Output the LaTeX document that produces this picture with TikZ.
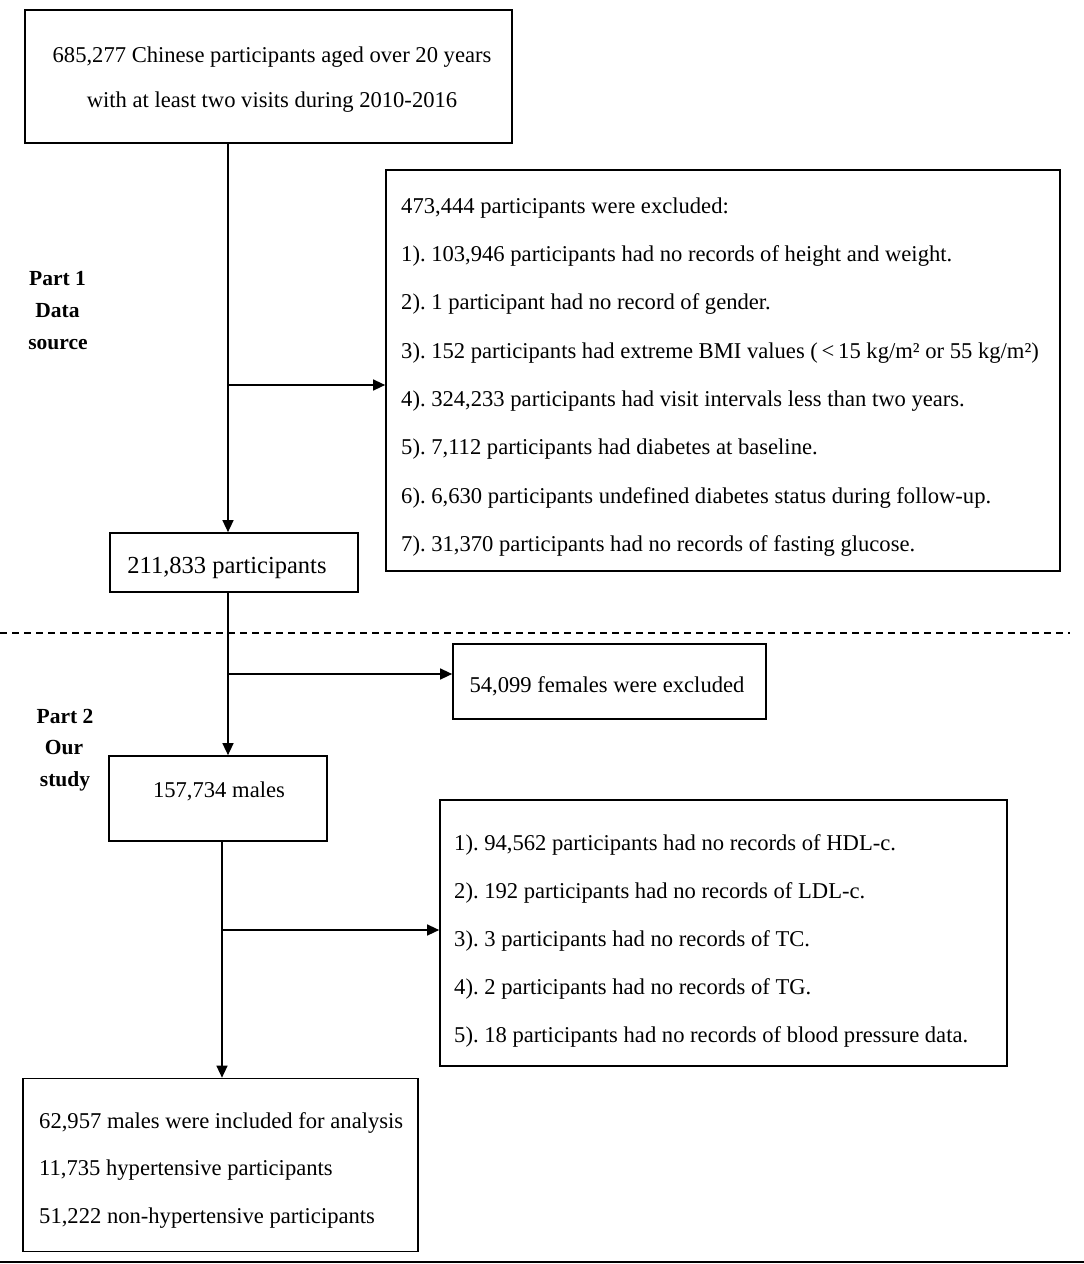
\documentclass[tikz,border=0pt]{standalone}
\usepackage{fontspec}
\setmainfont{Liberation Serif}
\usetikzlibrary{arrows.meta}
\frenchspacing
\begin{document}
\begin{tikzpicture}[x=1pt,y=-1pt,
  box/.style={draw, line width=1.7pt, inner sep=0pt},
  txt/.style={inner sep=0pt, font=\fontsize{22.6}{27}\selectfont},
  txtl/.style={txt, anchor=base west},
  txtc/.style={txt, anchor=base},
  lbl/.style={inner sep=0pt, anchor=base, font=\fontsize{21.5}{25}\selectfont\bfseries},
  conn/.style={line width=1.4pt},
  arr/.style={conn, -{Triangle[length=12pt,width=11pt]}},
]
\useasboundingbox (0,0) rectangle (1084,1264);
\fill[white] (0,0) rectangle (1084,1264);

% boxes
\node[box, minimum width=487pt, minimum height=133pt] (b1) at (268.5,76.5) {};
\node[box, minimum width=248pt, minimum height=59pt]  (b2) at (234,562.5) {};
\node[box, minimum width=674pt, minimum height=401pt] (b3) at (723,370.5) {};
\node[box, minimum width=313pt, minimum height=75pt]  (b5) at (609.5,681.5) {};
\node[box, minimum width=218pt, minimum height=85pt]  (b4) at (218,798.5) {};
\node[box, minimum width=567pt, minimum height=266pt] (b6) at (723.5,933) {};
\node[box, minimum width=395pt, minimum height=173pt] (b7) at (220.5,1165) {};

% box 1 text
\node[txtc] (t1a) at (272,62) {685,277 Chinese participants aged over 20 years};
\node[txtc] (t1b) at (272,107) {with at least two visits during 2010-2016};

% box 3 text
\node[txtl] (t3a) at (401,213) {473,444 participants were excluded:};
\node[txtl] (t3b) at (401,261) {1). 103,946 participants had no records of height and weight.};
\node[txtl] (t3c) at (401,309.5) {2). 1 participant had no record of gender.};
\node[txtl] (t3d) at (401,358) {3). 152 participants had extreme BMI values (\,<\,15 kg/m² or 55 kg/m²)};
\node[txtl] (t3e) at (401,406) {4). 324,233 participants had visit intervals less than two years.};
\node[txtl] (t3f) at (401,454.5) {5). 7,112 participants had diabetes at baseline.};
\node[txtl] (t3g) at (401,503) {6). 6,630 participants undefined diabetes status during follow-up.};
\node[txtl] (t3h) at (401,551) {7). 31,370 participants had no records of fasting glucose.};

% box 2, 4, 5 text
\node[txtc, font=\fontsize{24.5}{28}\selectfont] (t2) at (227,573) {211,833 participants};
\node[txtc] (t5) at (607,692) {54,099 females were excluded};
\node[txtc] (t4) at (219,797) {157,734 males};

% box 6 text
\node[txtl] (t6a) at (454,850) {1). 94,562 participants had no records of HDL-c.};
\node[txtl] (t6b) at (454,898) {2). 192 participants had no records of LDL-c.};
\node[txtl] (t6c) at (454,946) {3). 3 participants had no records of TC.};
\node[txtl] (t6d) at (454,994) {4). 2 participants had no records of TG.};
\node[txtl] (t6e) at (454,1042) {5). 18 participants had no records of blood pressure data.};

% box 7 text
\node[txtl] (t7a) at (39,1128) {62,957 males were included for analysis};
\node[txtl] (t7b) at (39,1175) {11,735 hypertensive participants};
\node[txtl] (t7c) at (39,1223) {51,222 non-hypertensive participants};

% part labels
\node[lbl] (p1a) at (57.5,285) {Part 1};
\node[lbl] (p1b) at (57.5,317) {Data};
\node[lbl] (p1c) at (58,349) {source};
\node[lbl] (p2a) at (65,723) {Part 2};
\node[lbl] (p2b) at (64,754) {Our};
\node[lbl] (p2c) at (65,786) {study};

% connectors
\coordinate (j1) at (228,385);
\draw[arr] (j1 |- b1.south) -- (j1 |- b2.north);
\draw[arr] (j1) -- (j1 -| b3.west);
\coordinate (j2) at (228,674);
\draw[arr] (j2 |- b2.south) -- (j2 |- b4.north);
\draw[arr] (j2) -- (j2 -| b5.west);
\coordinate (j3) at (222,930);
\draw[arr] (j3 |- b4.south) -- (j3 |- b7.north);
\draw[arr] (j3) -- (j3 -| b6.west);

% separators
\coordinate (d1) at (0,633);
\coordinate (d2) at (1070,633);
\draw[line width=1.8pt, dash pattern=on 7pt off 5pt] (d1) -- (d2);
\coordinate (s1) at (0,1262);
\coordinate (s2) at (1084,1262);
\draw[line width=2.4pt] (s1) -- (s2);
\end{tikzpicture}
\end{document}
